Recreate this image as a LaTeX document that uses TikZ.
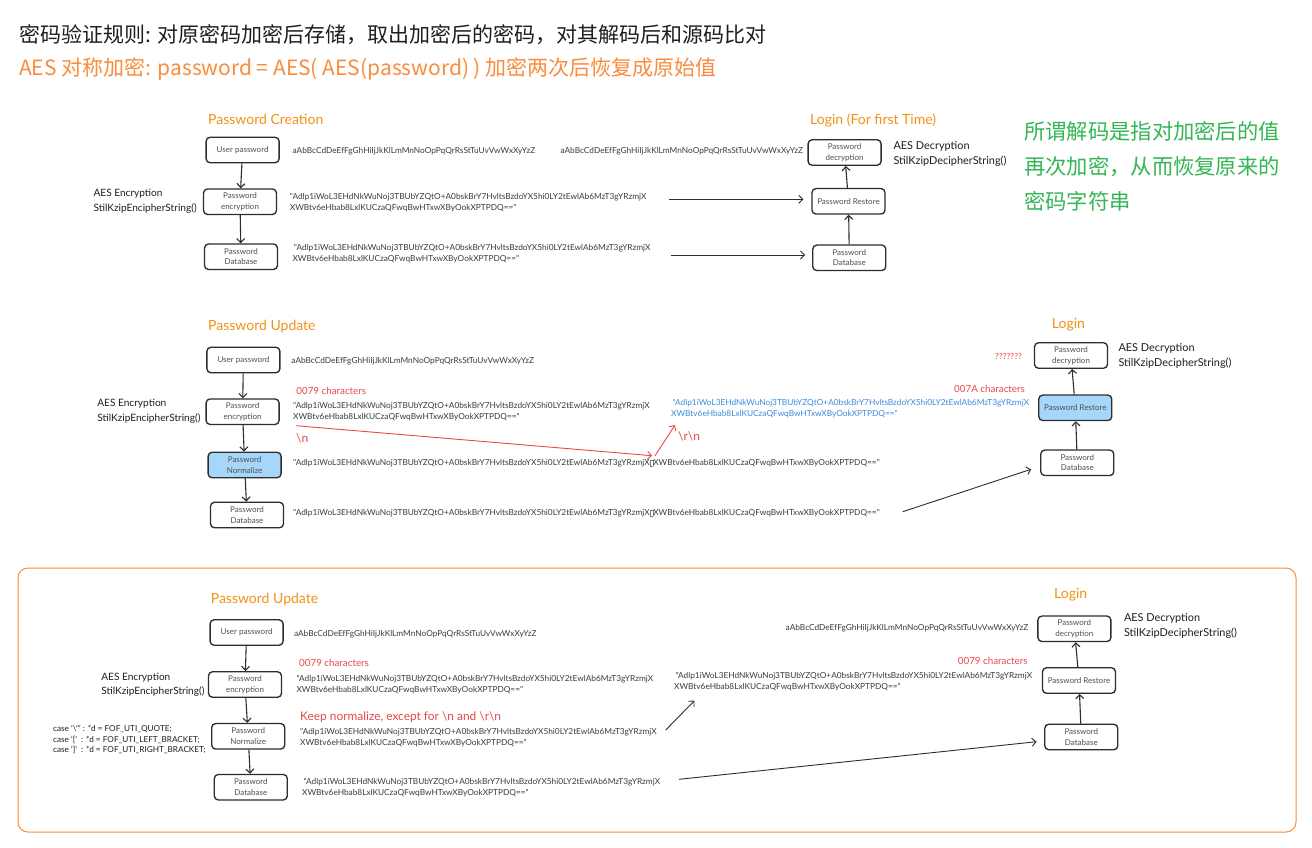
\documentclass[tikz,border=0pt]{standalone}
\usepackage{fontspec}
\usetikzlibrary{arrows.meta}
\newfontfamily\uifont{Lato}[Ligatures=TeXOff]
\newfontfamily\cjkfont{Noto Sans CJK SC}
\definecolor{boxline}{RGB}{45,45,45}
\definecolor{labelgray}{RGB}{80,80,80}
\definecolor{textdark}{RGB}{60,60,60}
\definecolor{headdark}{RGB}{30,30,30}
\definecolor{headorange}{RGB}{250,140,60}
\definecolor{titleorange}{RGB}{242,146,20}
\definecolor{notered}{RGB}{232,72,72}
\definecolor{noteblue}{RGB}{58,140,222}
\definecolor{fillblue}{RGB}{166,214,250}
\definecolor{notegreen}{RGB}{52,182,84}
\definecolor{tofugray}{RGB}{120,120,120}
% missing-glyph box printed inside the normalized strings
\newcommand{\tofuglyph}{{\setlength{\fboxsep}{0pt}\setlength{\fboxrule}{0.3pt}\kern0.3pt\raisebox{-0.4pt}{\textcolor{tofugray}{\fbox{\rule{0pt}{5.8pt}\hspace{2.4pt}}}}\kern0.3pt}}
\newcommand{\cipherA}{"Adlp1iWoL3EHdNkWuNoj3TBUbYZQtO+A0bskBrY7HvltsBzdoYX5hi0LY2tEwlAb6MzT3gYRzmjX}
\newcommand{\cipherB}{XWBtv6eHbab8LxlKUCzaQFwqBwHTxwXByOokXPTPDQ=="}
\newcommand{\alphabet}{aAbBcCdDeEfFgGhHiIjJkKlLmMnNoOpPqQrRsStTuUvVwWxXyYzZ}
\begin{document}
\begin{tikzpicture}[x=1pt,y=-1pt,
  stepbox/.style={draw=boxline, line width=1.35pt, rounded corners=4pt, fill=white,
    minimum width=73pt, minimum height=25.5pt, inner sep=1pt, align=center,
    text=labelgray, font=\uifont\fontsize{8}{10.5}\selectfont},
  hotbox/.style={stepbox, fill=fillblue},
  flow/.style={draw=boxline, line width=1.1pt, -{Straight Barb[length=4pt,width=8pt]}},
  redflow/.style={draw=notered, line width=0.9pt, -{Straight Barb[length=4pt,width=8pt]}},
  longflow/.style={draw=boxline, line width=0.9pt, -{Straight Barb[length=4pt,width=8pt]}},
  strtxt/.style={anchor=west, inner sep=0pt, align=left, text=textdark,
    font=\uifont\fontsize{8.3}{11}\selectfont},
  enctxt/.style={anchor=west, inner sep=0pt, align=left, text=headdark,
    font=\uifont\fontsize{10.1}{14.3}\selectfont},
  dectxt/.style={anchor=west, inner sep=0pt, align=left, text=headdark,
    font=\uifont\fontsize{10.9}{15}\selectfont},
  sectitle/.style={anchor=west, inner sep=0pt, text=titleorange,
    font=\uifont\fontsize{14}{16}\selectfont},
  rednote/.style={anchor=west, inner sep=0pt, text=notered,
    font=\uifont\fontsize{9.8}{12}\selectfont},
]
\useasboundingbox (0,0) rectangle (1312,847);
\fill[white] (0,0) rectangle (1312,847);

% ---------- heading ----------
\node[anchor=west, inner sep=0pt, text=headdark, font=\cjkfont\fontsize{21}{24}\selectfont] (head1) at (19,35)
  {密码验证规则: 对原密码加密后存储，取出加密后的密码，对其解码后和源码比对};
\node[anchor=west, inner sep=0pt, text=headorange, font=\cjkfont\fontsize{21}{24}\selectfont] (head2) at (19,69)
  {AES 对称加密: password = AES( AES(password) ) 加密两次后恢复成原始值};
\node[anchor=west, inner sep=0pt, align=left, text=notegreen, font=\cjkfont\fontsize{21.3}{35}\selectfont] (remark) at (1024,166.7)
  {所谓解码是指对加密后的值\\再次加密，从而恢复原来的\\密码字符串};

% ---------- password creation ----------
\node[sectitle] (t1) at (208,119) {Password Creation};
\node[stepbox] (up1) at (242.6,150) {User password};
\node[stepbox] (enc1) at (240,201.7) {Password\\encryption};
\node[stepbox] (db1) at (241,256.7) {Password\\Database};
\draw[flow] (up1) -- (enc1);
\draw[flow] (enc1) -- (db1);
\node[enctxt] (aes1) at (93.4,201.2) {AES Encryption\\StilKzipEncipherString()};
\node[strtxt] (s1a) at (292.4,150.7) {\alphabet};
\node[strtxt] (s1b) at (560.3,151.4) {\alphabet};
\node[strtxt] (s1c) at (289.7,202.8) {\cipherA\\\cipherB};
\node[strtxt] (s1d) at (292.4,253.3) {\,\cipherA\\\cipherB};

\node[sectitle] (t1r) at (810,120.7) {Login (For first Time)};
\node[stepbox] (dec1) at (844.6,152.5) {Password\\decryption};
\node[stepbox] (res1) at (848.5,201.3) {Password Restore};
\node[stepbox] (dbr1) at (849.3,257.8) {Password\\Database};
\draw[flow] (dbr1) -- (res1);
\draw[flow] (res1) -- (dec1);
\node[dectxt] (aesd1) at (893.3,154.2) {AES Decryption\\StilKzipDecipherString()};
\coordinate (from1a) at (669,199.3);
\coordinate (from1b) at (671,255);
\draw[longflow, shorten >=8pt] (from1a) -- ([yshift=2pt]res1.west);
\draw[longflow, shorten >=7pt] (from1b) -- ([yshift=2.8pt]dbr1.west);

% ---------- password update ----------
\node[sectitle] (t2) at (208,326.7) {Password Update};
\node[stepbox] (up2) at (243.4,360) {User password};
\node[stepbox] (enc2) at (242.6,411.7) {Password\\encryption};
\node[hotbox] (nor2) at (244.6,465) {Password\\Normalize};
\node[stepbox] (db2) at (247,515) {Password\\Database};
\draw[flow] (up2) -- (enc2);
\draw[flow] (enc2) -- (nor2);
\draw[flow] (nor2) -- (db2);
\node[enctxt] (aes2) at (97.2,411.2) {AES Encryption\\StilKzipEncipherString()};
\node[strtxt] (s2a) at (291.2,360.7) {\alphabet};
\node[rednote] (c2) at (296.2,390.7) {0079 characters};
\node[strtxt] (s2b) at (293,412) {\cipherA\\\cipherB};
\node[strtxt] (s2c) at (293,463.3) {\cipherA\tofuglyph\cipherB};
\node[strtxt] (s2d) at (293,513.3) {\cipherA\tofuglyph\cipherB};
\node[strtxt, text=noteblue] (s2e) at (671,408.4) {\,\cipherA\\\cipherB};
\coordinate (nlA) at (296.2,425.7);
\coordinate (nlB) at (652,455.7);
\coordinate (crA) at (655,455.7);
\coordinate (crB) at (675,425);
\draw[redflow] (nlA) -- (nlB);
\draw[redflow] (crA) -- (crB);
\node[rednote, font=\uifont\fontsize{12}{14}\selectfont] (nl) at (296,438.3) {\textbackslash n};
\node[rednote, font=\uifont\fontsize{12}{14}\selectfont] (crnl) at (678,436) {\textbackslash r\textbackslash n};

\node[sectitle] (t2r) at (1051.7,324.3) {Login};
\node[stepbox] (dec2) at (1071,355.5) {Password\\decryption};
\node[hotbox] (res2) at (1075.3,407.8) {Password Restore};
\node[stepbox] (dbr2) at (1077.3,462.8) {Password\\Database};
\draw[flow] (dbr2) -- (res2);
\draw[flow] (res2) -- (dec2);
\node[rednote, font=\uifont\fontsize{8.5}{10}\selectfont] (qm) at (995,356.7) {???????};
\node[rednote] (c2r) at (954,389) {007A characters};
\node[dectxt] (aesd2) at (1118.3,356.3) {AES Decryption\\StilKzipDecipherString()};
\coordinate (from2) at (902.7,511.7);
\draw[longflow, shorten >=9.5pt] (from2) -- ([yshift=-3.5pt]dbr2.west);

% ---------- password update, revised ----------
\draw[draw=headorange, line width=1pt, rounded corners=10pt] (18,568) rectangle (1296,832);
\node[sectitle] (t3) at (210.6,599.3) {Password Update};
\node[stepbox] (up3) at (246.6,632.5) {User password};
\node[stepbox] (enc3) at (245,684.5) {Password\\encryption};
\node[stepbox] (nor3) at (248.2,736.3) {Password\\Normalize};
\node[stepbox] (db3) at (250.8,787.2) {Password\\Database};
\draw[flow] (up3) -- (enc3);
\draw[flow] (enc3) -- (nor3);
\draw[flow] (nor3) -- (db3);
\node[enctxt] (aes3) at (101.2,685) {AES Encryption\\StilKzipEncipherString()};
\node[strtxt, text=headdark, font=\uifont\fontsize{8.2}{10.5}\selectfont] (cases) at (53,739.5)
  {case '\textbackslash"' : *d = FOF\_UTI\_QUOTE;\\case '[' \ : *d = FOF\_UTI\_LEFT\_BRACKET;\\case ']' \ : *d = FOF\_UTI\_RIGHT\_BRACKET;};
\node[strtxt] (s3a) at (293.8,634.3) {\alphabet};
\node[rednote] (c3) at (299,662.7) {0079 characters};
\node[strtxt] (s3b) at (296.4,684.5) {\cipherA\\\cipherB};
\node[rednote, font=\uifont\fontsize{11.9}{14}\selectfont] (keep) at (300,716.7) {Keep normalize, except for \textbackslash n and \textbackslash r\textbackslash n};
\node[strtxt] (s3c) at (300,738) {\cipherA\\\cipherB};
\node[strtxt] (s3d) at (302,787.2) {\,\cipherA\\\cipherB};
\node[strtxt] (s3e) at (674,682) {\,\cipherA\\\cipherB};
\coordinate (upA) at (665.7,730);
\coordinate (upB) at (694.4,700.7);
\draw[longflow] (upA) -- (upB);

\node[sectitle] (t3r) at (1054,594.3) {Login};
\node[stepbox] (dec3) at (1074.4,628.8) {Password\\decryption};
\node[stepbox] (res3) at (1079,680.5) {Password Restore};
\node[stepbox] (dbr3) at (1081.3,737) {Password\\Database};
\draw[flow] (dbr3) -- (res3);
\draw[flow] (res3) -- (dec3);
\node[dectxt] (aesd3) at (1123.8,625.5) {AES Decryption\\StilKzipDecipherString()};
\node[strtxt] (s3f) at (785.5,628.3) {\alphabet};
\node[rednote] (c3r) at (957.7,660.7) {0079 characters};
\coordinate (from3) at (679,779.3);
\draw[longflow, shorten >=7.6pt] (from3) -- ([yshift=-3.9pt]dbr3.west);
\end{tikzpicture}
\end{document}
